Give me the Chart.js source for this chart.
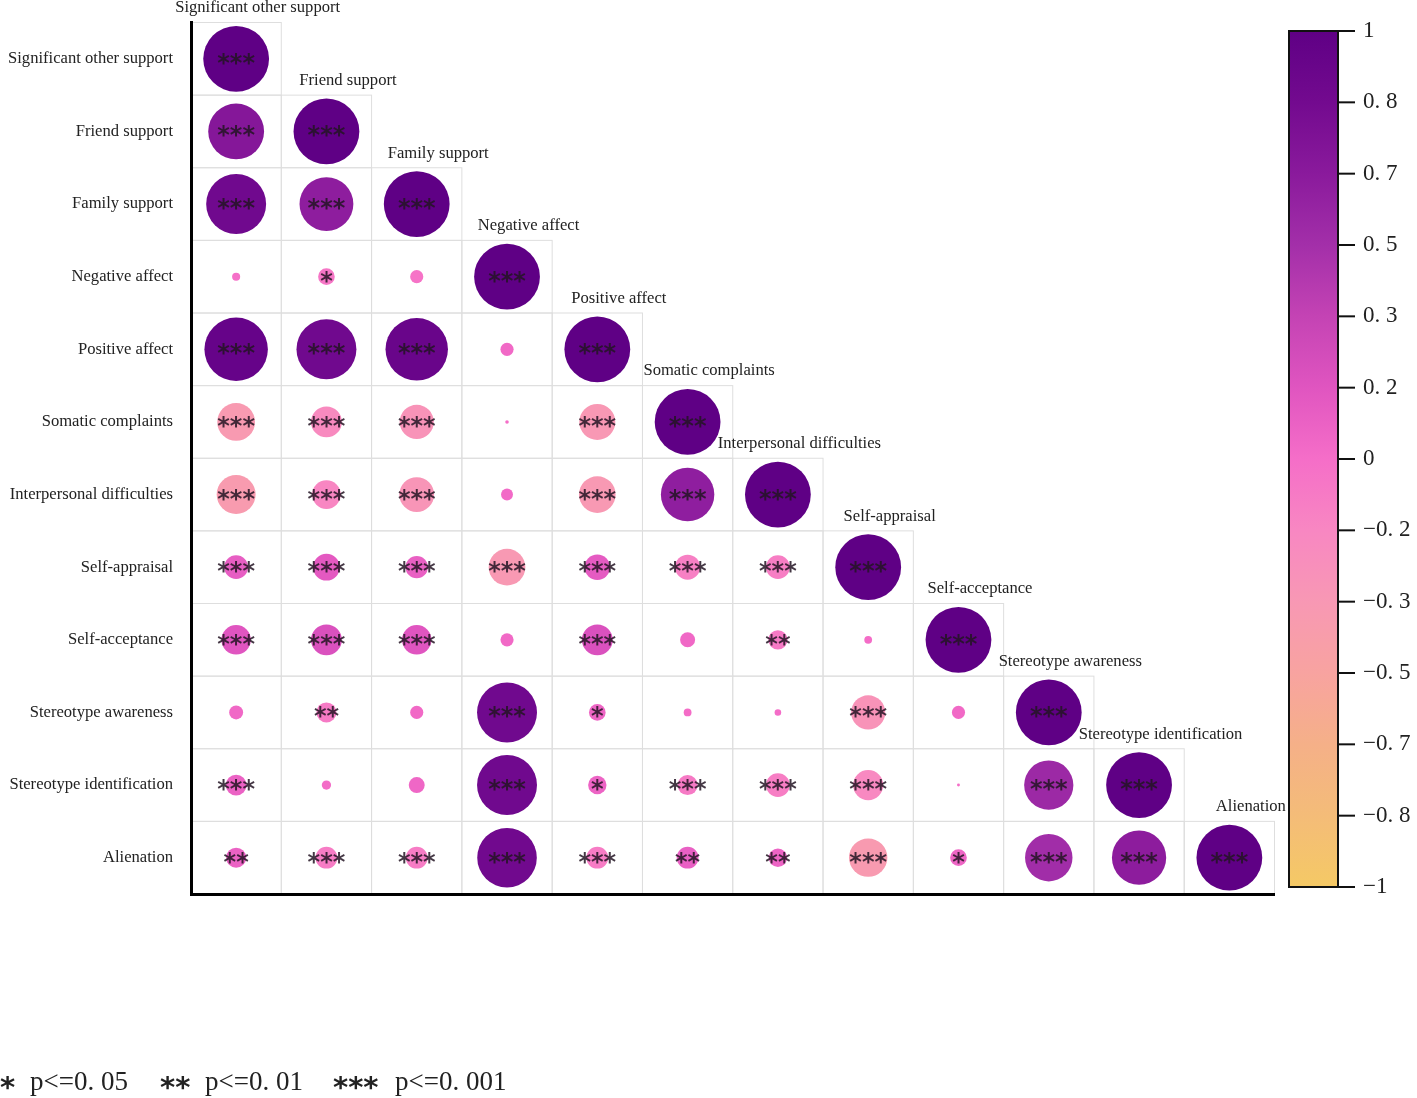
<!DOCTYPE html>
<html>
<head>
<meta charset="utf-8">
<title>Correlation matrix</title>
<script src="https://cdn.jsdelivr.net/npm/chart.js@4.4.1/dist/chart.umd.min.js"></script>
<style>
  html, body { margin: 0; padding: 0; background: #fff; }
  #wrap { position: relative; width: 1417px; height: 1098px; }
</style>
</head>
<body>
<div id="wrap"><canvas id="corrChart"></canvas></div>
<script>
// Variables (rows and columns)
const variables = [
    'Significant other support', 'Friend support', 'Family support', 'Negative affect',
    'Positive affect', 'Somatic complaints', 'Interpersonal difficulties', 'Self-appraisal',
    'Self-acceptance', 'Stereotype awareness', 'Stereotype identification', 'Alienation'
];

// Lower triangle of the correlation matrix, row i holds columns 0..i
const corrRows = [
    [1],
    [0.72, 1],
    [0.83, 0.67, 1],
    [-0.015, -0.064, -0.04, 1],
    [0.93, 0.83, 0.90, 0.04, 1],
    [-0.33, -0.22, -0.27, 0.003, -0.30, 1],
    [-0.35, -0.19, -0.28, 0.033, -0.31, 0.66, 1],
    [0.13, 0.165, 0.115, -0.31, 0.15, -0.145, -0.13, 1],
    [0.2, 0.22, 0.2, 0.04, 0.22, 0.052, -0.086, 0.014, 1],
    [0.045, -0.093, 0.04, 0.83, 0.064, 0.014, 0.01, -0.27, 0.04, 1],
    [0.10, 0.02, 0.059, 0.83, 0.078, -0.093, -0.13, -0.21, 0.002, 0.56, 1],
    [0.093, -0.11, -0.11, 0.82, -0.11, 0.11, 0.078, -0.34, 0.064, 0.52, 0.68, 1]
];

// Significance marks, same layout as corrRows
const sigRows = [
    ['***'],
    ['***', '***'],
    ['***', '***', '***'],
    ['', '*', '', '***'],
    ['***', '***', '***', '', '***'],
    ['***', '***', '***', '', '***', '***'],
    ['***', '***', '***', '', '***', '***', '***'],
    ['***', '***', '***', '***', '***', '***', '***', '***'],
    ['***', '***', '***', '', '***', '', '**', '', '***'],
    ['', '**', '', '***', '*', '', '', '***', '', '***'],
    ['***', '', '', '***', '*', '***', '***', '***', '', '***', '***'],
    ['**', '***', '***', '***', '***', '**', '**', '***', '*', '***', '***', '***']
];

// Colour bar ticks (evenly spaced on the bar) and the colour at each tick
const cbTickValues = [1, 0.8, 0.7, 0.5, 0.3, 0.2, 0, -0.2, -0.3, -0.5, -0.7, -0.8, -1];
const cbTickLabels = ['1', '0. 8', '0. 7', '0. 5', '0. 3', '0. 2', '0',
                      '\u22120. 2', '\u22120. 3', '\u22120. 5', '\u22120. 7', '\u22120. 8', '\u22121'];
const cbColors = ['#5f0085', '#730a8f', '#8a1a9c', '#a32fa9', '#c443b4', '#e055c0', '#f56ec8',
                  '#f887c2', '#f898b4', '#f8a3a0', '#f5b088', '#f4bc78', '#f5c965'];

const legendItems = ['*', 'p<=0. 05', '**', 'p<=0. 01', '***', 'p<=0. 001'];

const SERIF = '"Liberation Serif", "Times New Roman", serif';
const STAR_FONT = 'bold 24px "DejaVu Sans", sans-serif';

function hexToRgb(h) {
    return [parseInt(h.slice(1, 3), 16), parseInt(h.slice(3, 5), 16), parseInt(h.slice(5, 7), 16)];
}

function colorFor(v) {
    for (let k = 0; k < cbTickValues.length - 1; k++) {
        const a = cbTickValues[k], b = cbTickValues[k + 1];
        if (v <= a && v >= b) {
            const t = (a - v) / (a - b);
            const c1 = hexToRgb(cbColors[k]), c2 = hexToRgb(cbColors[k + 1]);
            const c = c1.map((x, n) => Math.round(x + (c2[n] - x) * t));
            return `rgb(${c[0]}, ${c[1]}, ${c[2]})`;
        }
    }
    return cbColors[0];
}

const points = [];
corrRows.forEach((row, i) => {
    row.forEach((v, j) => {
        points.push({ x: j, y: i, v: v, sig: sigRows[i][j] });
    });
});

// cell outlines for the lower triangle
const cellGrid = {
    id: 'cellGrid',
    beforeDraw(chart) {
        const { ctx, scales: { x, y } } = chart;
        ctx.save();
        ctx.strokeStyle = '#dedede';
        ctx.lineWidth = 1;
        for (let i = 0; i < variables.length; i++) {
            for (let j = 0; j <= i; j++) {
                const x0 = x.getPixelForValue(j - 0.5), x1 = x.getPixelForValue(j + 0.5);
                const y0 = y.getPixelForValue(i - 0.5), y1 = y.getPixelForValue(i + 0.5);
                ctx.strokeRect(x0, y0, x1 - x0, y1 - y0);
            }
        }
        ctx.restore();
    }
};

// significance asterisks on the bubbles + column headers
const annotations = {
    id: 'annotations',
    afterDatasetsDraw(chart) {
        const { ctx, scales: { x, y } } = chart;
        const meta = chart.getDatasetMeta(0);
        ctx.save();
        ctx.font = STAR_FONT;
        ctx.fillStyle = 'rgba(35, 20, 35, 0.85)';
        ctx.textAlign = 'center';
        ctx.textBaseline = 'alphabetic';
        const m = ctx.measureText('*');
        const shift = (m.actualBoundingBoxAscent - m.actualBoundingBoxDescent) / 2;
        meta.data.forEach((el, k) => {
            const s = points[k].sig;
            if (s) ctx.fillText(s, el.x, el.y + shift);
        });

        ctx.font = '16.6px ' + SERIF;
        ctx.fillStyle = '#222';
        ctx.textBaseline = 'middle';
        variables.forEach((name, i) => {
            const cx = x.getPixelForValue(i) + 21.5;
            const cy = y.getPixelForValue(i - 0.5) - 14.5;
            ctx.fillText(name, cx, cy);
        });
        ctx.restore();
    }
};

// colour bar and p-value legend
const colorBar = {
    id: 'colorBar',
    afterDraw(chart) {
        const { ctx, chartArea } = chart;
        const left = chartArea.right + 14.5, w = 49;
        const top = chartArea.top + 8.5, bottom = chartArea.bottom - 7;
        const h = bottom - top;
        ctx.save();
        const grad = ctx.createLinearGradient(0, top, 0, bottom);
        cbColors.forEach((c, k) => grad.addColorStop(k / (cbColors.length - 1), c));
        ctx.fillStyle = grad;
        ctx.fillRect(left, top, w, h);
        ctx.strokeStyle = '#111';
        ctx.lineWidth = 2;
        ctx.strokeRect(left, top, w, h);

        ctx.font = '23px ' + SERIF;
        ctx.fillStyle = '#222';
        ctx.textBaseline = 'middle';
        ctx.textAlign = 'left';
        cbTickLabels.forEach((lab, k) => {
            const ty = top + h * k / (cbTickLabels.length - 1);
            ctx.beginPath();
            ctx.moveTo(left + w, ty);
            ctx.lineTo(left + w + 17, ty);
            ctx.stroke();
            ctx.fillText(lab, left + w + 25, ty);
        });

        // legend for significance levels
        const legendX = [0, 30, 160, 205, 333, 395];
        const ly = 1083;
        legendItems.forEach((t, k) => {
            if (t.startsWith('*')) {
                ctx.font = 'bold 29px "DejaVu Sans", sans-serif';
                ctx.textBaseline = 'alphabetic';
                const m = ctx.measureText('*');
                const sh = (m.actualBoundingBoxAscent - m.actualBoundingBoxDescent) / 2;
                ctx.fillText(t, legendX[k], ly + sh);
            } else {
                ctx.font = '27px ' + SERIF;
                ctx.textBaseline = 'middle';
                ctx.fillText(t, legendX[k], ly);
            }
        });
        ctx.restore();
    }
};

new Chart(document.getElementById('corrChart'), {
    type: 'scatter',
    data: {
        datasets: [{
            data: points,
            pointBackgroundColor: ctx => colorFor(ctx.raw.v),
            pointBorderWidth: 0,
            pointRadius: ctx => {
                const ys = ctx.chart.scales.y;
                const cellH = (ys.bottom - ys.top) / variables.length;
                return Math.sqrt(Math.abs(ctx.raw.v)) * cellH * 0.453;
            },
            clip: false
        }]
    },
    options: {
        responsive: true,
        maintainAspectRatio: false,
        animation: false,
        events: [],
        layout: { padding: { top: 22.5, right: 142.5, left: 0, bottom: 0 } },
        plugins: { legend: { display: false }, tooltip: { enabled: false } },
        scales: {
            x: {
                type: 'linear',
                min: -0.5,
                max: 11.5,
                grid: { display: false, drawTicks: false },
                border: { display: true, color: '#000', width: 3 },
                ticks: { display: false },
                afterFit: s => { s.height = 204; s.paddingLeft = 0; s.paddingRight = 0; }
            },
            y: {
                type: 'linear',
                reverse: true,
                min: -0.5,
                max: 11.5,
                grid: { display: false, drawTicks: false },
                border: { display: true, color: '#000', width: 3 },
                afterBuildTicks: s => { s.ticks = variables.map((_, i) => ({ value: i })); },
                ticks: {
                    callback: v => variables[v],
                    font: { family: SERIF, size: 16.6 },
                    color: '#222',
                    padding: 18
                },
                afterFit: s => { s.width = 191; s.paddingTop = 0; s.paddingBottom = 0; }
            }
        }
    },
    plugins: [cellGrid, annotations, colorBar]
});
</script>
</body>
</html>
